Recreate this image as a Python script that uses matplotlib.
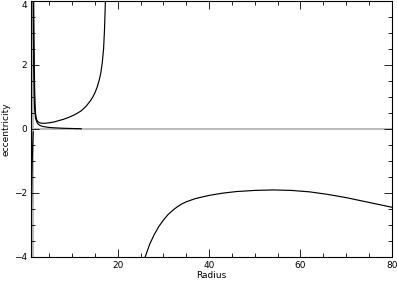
import numpy as np
import matplotlib
matplotlib.use("Agg")
import matplotlib.pyplot as plt
from matplotlib.ticker import MultipleLocator

# upper branch (U shape)
radius_a = [1.6, 1.65, 1.7, 1.75, 1.8, 1.9, 2.0, 2.2, 2.5, 3, 3.5, 4, 5, 6, 7, 8, 9, 10, 11, 12,
            13, 14, 14.5, 15, 15.5, 16, 16.3, 16.6, 16.9, 17.1, 17.3]
ecc_a = [4.0, 3.1, 2.4, 1.8, 1.3, 0.75, 0.48, 0.3, 0.22, 0.18, 0.17, 0.17, 0.185, 0.21, 0.25,
         0.29, 0.34, 0.40, 0.47, 0.56, 0.69, 0.87, 0.98, 1.12, 1.3, 1.55, 1.75, 2.05, 2.5, 3.1, 4.0]

# branch decaying to zero
radius_b = [1.5, 1.55, 1.6, 1.7, 1.8, 2.0, 2.3, 2.6, 3, 3.5, 4, 5, 6, 8, 10, 12]
ecc_b = [4.0, 2.8, 2.0, 1.1, 0.65, 0.33, 0.2, 0.14, 0.1, 0.075, 0.06, 0.04, 0.03, 0.015, 0.007, 0.0]

# negative branch near the origin
radius_c = [1.05, 1.1, 1.2, 1.3, 1.4, 1.5]
ecc_c = [-4.0, -2.6, -1.5, -0.9, -0.45, -0.1]

# lower branch
radius_d = [26, 26.5, 27, 27.5, 28, 29, 30, 31, 32, 33, 34, 35, 37, 40, 43, 46, 50, 54, 58,
            62, 66, 70, 74, 77, 80]
ecc_d = [-4.0, -3.8, -3.6, -3.45, -3.3, -3.05, -2.85, -2.68, -2.55, -2.44, -2.35, -2.28, -2.18,
         -2.08, -2.01, -1.96, -1.925, -1.91, -1.925, -1.97, -2.05, -2.15, -2.27, -2.36, -2.45]

grey_x = 1.45
grey_y = 0.0

fig = plt.figure(figsize=(3.97, 2.82), dpi=100)
ax = fig.add_axes([0.078, 0.089, 0.909, 0.909])

ax.axhline(grey_y, color='#b4b4b4', lw=1.3, zorder=1)
ax.axvline(grey_x, color='#b4b4b4', lw=1.3, zorder=1)

for xs, ys in [(radius_a, ecc_a), (radius_b, ecc_b), (radius_c, ecc_c), (radius_d, ecc_d)]:
    ax.plot(xs, ys, color='black', lw=0.85, zorder=2)

ax.set_xlim(1, 80)
ax.set_ylim(-4, 4)
ax.xaxis.set_major_locator(MultipleLocator(20))
ax.xaxis.set_minor_locator(MultipleLocator(5))
ax.yaxis.set_major_locator(MultipleLocator(2))
ax.yaxis.set_minor_locator(MultipleLocator(0.5))
ax.tick_params(which='both', direction='in', top=True, right=True, width=0.6,
               labelsize=6.5, pad=3, colors='black')
ax.tick_params(which='major', length=6)
ax.tick_params(which='minor', length=3)
ax.tick_params(axis='x', labeltop=False)
ax.tick_params(axis='y', labelright=False)
for s in ax.spines.values():
    s.set_linewidth(0.8)

ax.set_xlabel('Radius', fontsize=6.5, labelpad=1)
ax.set_ylabel('eccentricity', fontsize=6.5, labelpad=2)

# top tick label sits against the figure edge, push it down like the original
fig.canvas.draw()
for lab in ax.get_yticklabels():
    if lab.get_position()[1] == 4:
        lab.set_verticalalignment('top')

fig.savefig('out.png', dpi=100)
